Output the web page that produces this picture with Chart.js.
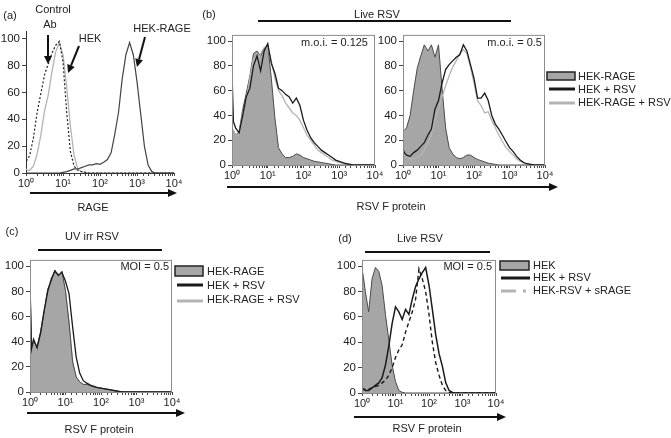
<!DOCTYPE html>
<html>
<head>
<meta charset="utf-8">
<script src="https://cdn.jsdelivr.net/npm/chart.js@4"></script>
<style>
  body { margin: 0; background: #fff; }
  #fig { position: relative; width: 671px; height: 438px; overflow: hidden; background: #fff; }
  #fig canvas { position: absolute; }
  #deco { position: absolute; left: 0; top: 0; font-family: "Liberation Sans", Arial, sans-serif; font-size: 11px; fill: #222; }
</style>
</head>
<body>
<div id="fig"></div>
<script>
// log10 of fluorescence channel, shared by every histogram
const logGrid = [0, 0.04,
  0.1, 0.2, 0.3, 0.4, 0.5, 0.6, 0.7, 0.8, 0.9, 1.0,
  1.1, 1.2, 1.3, 1.4, 1.5, 1.6, 1.7, 1.8, 1.9, 2.0,
  2.1, 2.2, 2.3, 2.4, 2.5, 2.6, 2.7, 2.8, 2.9, 3.0,
  3.1, 3.2, 3.3, 3.4, 3.5, 3.6, 3.7, 3.8, 3.9, 4.0];

const tickLabels = ['10⁰', '10¹', '10²', '10³', '10⁴'];
const yTicks = [0, 20, 40, 60, 80, 100];

// (a) RAGE
const aControl = [9, 10,
  13, 26, 45, 59, 73, 81, 89, 95, 98, 83,
  45, 16, 5, 2, 1, 0.5, 0, 0, 0, 0,
  0, 0, 0, 0, 0, 0, 0, 0, 0, 0,
  0, 0, 0, 0, 0, 0, 0, 0, 0, 0];
const aHek = [3, 2,
  2, 5, 14, 28, 46, 58, 75, 90, 97, 88,
  64, 35, 13, 3, 1, 0.5, 0, 0, 0, 0,
  0, 0, 0, 0, 0, 0, 0, 0, 0, 0,
  0, 0, 0, 0, 0, 0, 0, 0, 0, 0];
const aRage = [0, 0,
  0, 0, 0, 0, 0, 0, 0, 0, 0, 0.5,
  1, 2, 3, 3, 4, 5, 6, 6, 7, 6.5,
  8, 10, 15, 29, 45, 70, 88, 97, 88, 68,
  44, 20, 6, 1, 0, 0, 0, 0, 0, 0];

// (b) live RSV, m.o.i. = 0.125
const blFill = [27, 28,
  24, 27, 45, 58, 72, 90, 92, 88, 94, 97,
  70, 38, 14, 9, 6, 6, 7, 9, 8, 6,
  5, 4, 3, 2.5, 2, 1.5, 1, 0.5, 0, 0,
  0, 0, 0, 0, 0, 0, 0, 0, 0, 0];
const blHek = [75, 35,
  30, 26, 40, 55, 62, 80, 88, 76, 92, 98,
  82, 74, 62, 60, 57, 55, 50, 54, 48, 36,
  28, 22, 18, 15, 12, 10, 8, 6, 4, 3,
  2, 1, 0.5, 0, 0, 0, 0, 0, 0, 0];
const blRage = [30, 28,
  24, 25, 42, 52, 70, 86, 82, 90, 95, 95,
  84, 70, 60, 56, 50, 46, 42, 40, 36, 30,
  24, 20, 16, 12, 10, 8, 6, 4, 3, 2,
  1.5, 1, 0.5, 0, 0, 0, 0, 0, 0, 0];

// (b) live RSV, m.o.i. = 0.5
const brFill = [27, 28,
  30, 40, 60, 78, 88, 97, 92, 97, 87, 97,
  62, 30, 14, 9, 6, 5, 6, 8, 8, 6,
  4.5, 3.5, 2.5, 1.5, 1, 0.5, 0, 0, 0, 0,
  0, 0, 0, 0, 0, 0, 0, 0, 0, 0];
const brHek = [13, 10,
  8, 7, 10, 12, 15, 18, 24, 29, 45, 52,
  66, 77, 81, 84, 87, 89, 97, 92, 81, 70,
  54, 54, 58, 52, 40, 33, 29, 24, 19, 14,
  11, 7, 4, 2, 1, 0.5, 0, 0, 0, 0];
const brRage = [10, 8,
  6, 5, 5, 6, 8, 12, 18, 24, 38, 45,
  55, 64, 72, 79, 84, 90, 93, 90, 79, 66,
  52, 48, 42, 43, 36, 30, 24, 19, 14, 11,
  8, 5, 3, 1.5, 0.5, 0, 0, 0, 0, 0];

// (c) UV irradiated RSV
const cFill = [88, 36,
  40, 36, 48, 64, 82, 88, 97, 92, 96, 80,
  55, 24, 12, 8, 6, 6, 5, 4, 3.5, 3,
  2.5, 2, 1.5, 1, 0.5, 0, 0, 0, 0, 0,
  0, 0, 0, 0, 0, 0, 0, 0, 0, 0];
const cHek = [88, 34,
  42, 35, 47, 65, 80, 90, 96, 93, 95, 88,
  78, 52, 28, 15, 9, 7, 5.5, 4.5, 3.5, 3,
  2.5, 2, 1.5, 1, 0.5, 0, 0, 0, 0, 0,
  0, 0, 0, 0, 0, 0, 0, 0, 0, 0];
const cRage = [86, 35,
  40, 36, 48, 63, 81, 88, 96, 92, 95, 80,
  55, 24, 12, 8, 6, 6, 5, 4, 3.5, 3,
  2.5, 2, 1.5, 1, 0.5, 0, 0, 0, 0, 0,
  0, 0, 0, 0, 0, 0, 0, 0, 0, 0];

// (d) live RSV +/- soluble RAGE
const dFill = [98, 92,
  80, 64, 90, 99, 96, 85, 62, 42, 22, 9,
  2, 0.5, 0, 0, 0, 0, 0, 0, 0, 0,
  0, 0, 0, 0, 0, 0, 0, 0, 0, 0,
  0, 0, 0, 0, 0, 0, 0, 0, 0, 0];
const dHek = [3, 3,
  2, 2, 4, 6, 8, 12, 22, 37, 55, 68,
  64, 58, 66, 62, 74, 84, 90, 95, 99, 85,
  66, 46, 31, 21, 8, 2, 0.5, 0, 0, 0,
  0, 0, 0, 0, 0, 0, 0, 0, 0, 0];
const dSrage = [4, 3,
  3, 3, 4, 5, 6, 8, 10, 14, 20, 28,
  34, 38, 48, 56, 64, 74, 98, 90, 80, 62,
  40, 24, 14, 6, 2, 0.5, 0, 0, 0, 0,
  0, 0, 0, 0, 0, 0, 0, 0, 0, 0];

const FONT = { family: '"Liberation Sans", Arial, sans-serif', size: 11 };
const YFONT = { family: '"Liberation Sans", Arial, sans-serif', size: 11.5 };
const DARK = '#1a1a1a', LIGHT = '#b4b4b4', FILL = '#a6a6a6';
const AXW = 30, AXH = 20, PADT = 6, PADR = 12;

const pts = arr => arr.map((v, i) => ({ x: Math.pow(10, logGrid[i]), y: v }));

function fillSet(arr) {
  return { data: pts(arr), fill: 'origin', backgroundColor: FILL, borderColor: '#4a4a4a', borderWidth: 1, order: 3 };
}
function lineSet(arr, color, width, order, dash) {
  return { data: pts(arr), fill: false, borderColor: color, borderWidth: width, borderDash: dash || [], order: order };
}

const framePlugin = {
  id: 'frame',
  afterDatasetsDraw(chart, args, opts) {
    if (!opts.on) return;
    const a = chart.chartArea, ctx = chart.ctx;
    ctx.save();
    ctx.strokeStyle = '#8c8c8c';
    ctx.lineWidth = 1;
    ctx.strokeRect(a.left + 0.5, a.top + 0.5, a.right - a.left - 1, a.bottom - a.top);
    ctx.restore();
  }
};

function panel(box, datasets, framed) {
  const cv = document.createElement('canvas');
  const w = box.r - box.l + AXW + PADR, h = box.b - box.t + PADT + AXH;
  cv.width = w; cv.height = h;
  cv.style.left = (box.l - AXW) + 'px';
  cv.style.top = (box.t - PADT) + 'px';
  cv.style.width = w + 'px'; cv.style.height = h + 'px';
  document.getElementById('fig').appendChild(cv);

  new Chart(cv, {
    type: 'line',
    data: { datasets: datasets },
    options: {
      responsive: false,
      animation: false,
      elements: { point: { radius: 0 }, line: { tension: 0 } },
      layout: { padding: { top: PADT, right: PADR, left: 0, bottom: 0 } },
      plugins: { legend: { display: false }, tooltip: { enabled: false }, frame: { on: framed } },
      scales: {
        x: {
          type: 'logarithmic', min: 1, max: 10000,
          afterFit: s => { s.height = AXH; },
          border: { display: !framed, color: '#333', width: 1 },
          grid: { drawOnChartArea: false, drawTicks: true, tickLength: 3, color: '#444' },
          ticks: {
            autoSkip: false, maxRotation: 0, padding: 1, color: '#222', font: FONT,
            callback: v => {
              const e = Math.round(Math.log10(v));
              return Math.abs(v - Math.pow(10, e)) < 1e-6 ? tickLabels[e] : '';
            }
          }
        },
        y: {
          min: 0, max: 105,
          afterFit: s => { s.width = AXW; },
          afterBuildTicks: s => { s.ticks = yTicks.map(v => ({ value: v })); },
          border: { display: !framed, color: '#333', width: 1 },
          grid: { drawOnChartArea: false, drawTicks: true, tickLength: 4, color: '#444' },
          ticks: { padding: 2, color: '#222', font: YFONT }
        }
      }
    },
    plugins: [framePlugin]
  });
}

// (a)
panel({ l: 26, r: 174, t: 29, b: 173 }, [
  lineSet(aHek, LIGHT, 1.3, 3),
  lineSet(aControl, '#222', 1.2, 2, [2, 2]),
  lineSet(aRage, '#444', 1.2, 1)
], false);

// (b) left and right
panel({ l: 232, r: 375, t: 32, b: 165 }, [
  fillSet(blFill), lineSet(blRage, LIGHT, 1.3, 2), lineSet(blHek, DARK, 1.3, 1)
], true);
panel({ l: 403, r: 545, t: 32, b: 165 }, [
  fillSet(brFill), lineSet(brRage, LIGHT, 1.3, 2), lineSet(brHek, DARK, 1.3, 1)
], true);

// (c) light curve sits under the fill
const cSets = [fillSet(cFill), lineSet(cRage, LIGHT, 1.3, 4), lineSet(cHek, DARK, 1.3, 1)];
panel({ l: 30, r: 172, t: 257, b: 392 }, cSets, true);

// (d)
panel({ l: 362, r: 496, t: 257, b: 393 }, [
  fillSet(dFill), lineSet(dSrage, DARK, 1.4, 2, [4, 3]), lineSet(dHek, DARK, 1.5, 1)
], true);

// ---- annotations (text, bars, arrows, legends) ----
const NS = 'http://www.w3.org/2000/svg';
const svg = document.createElementNS(NS, 'svg');
svg.setAttribute('id', 'deco');
svg.setAttribute('width', 671);
svg.setAttribute('height', 438);
document.getElementById('fig').appendChild(svg);

function el(tag, attrs, text) {
  const e = document.createElementNS(NS, tag);
  for (const k in attrs) e.setAttribute(k, attrs[k]);
  if (text) e.textContent = text;
  svg.appendChild(e);
  return e;
}
function label(x, y, s, anchor) {
  el('text', { x: x, y: y, 'text-anchor': anchor || 'middle', 'dominant-baseline': 'central' }, s);
}
function bar(x1, x2, y) {
  el('line', { x1: x1, y1: y, x2: x2, y2: y, stroke: '#111', 'stroke-width': 2 });
}
function arrow(x1, y1, x2, y2, len, half) {
  const ang = Math.atan2(y2 - y1, x2 - x1), c = Math.cos(ang), s = Math.sin(ang);
  const bx = x2 - c * len, by = y2 - s * len;
  el('line', { x1: x1, y1: y1, x2: bx, y2: by, stroke: '#111', 'stroke-width': 2 });
  el('polygon', { points: `${x2},${y2} ${bx - s * half},${by + c * half} ${bx + s * half},${by - c * half}`, fill: '#111' });
}
function legendBox(x, y, w, h) {
  el('rect', { x: x, y: y, width: w, height: h, fill: FILL, stroke: '#222', 'stroke-width': 1.5 });
}
function legendLine(x1, x2, y, color, dash) {
  const a = { x1: x1, y1: y, x2: x2, y2: y, stroke: color, 'stroke-width': 3 };
  if (dash) a['stroke-dasharray'] = dash;
  el('line', a);
}

// (a)
label(10, 15, '(a)');
label(53, 9, 'Control');
label(50, 24, 'Ab');
label(90, 38, 'HEK');
label(162, 28, 'HEK-RAGE');
arrow(48, 35, 48, 64, 8, 4);
arrow(79, 46, 68, 73, 8, 4);
arrow(145, 37, 137, 67, 8, 4);
arrow(30, 193, 177, 193, 9, 4);
label(93, 207, 'RAGE');

// (b)
label(209, 14, '(b)');
label(377, 14, 'Live RSV');
bar(258, 511, 21);
label(368, 42, 'm.o.i. = 0.125', 'end');
label(542, 42, 'm.o.i. = 0.5', 'end');
arrow(227, 187, 558, 187, 9, 4);
label(391, 206, 'RSV F protein');
legendBox(547, 72, 28, 8);
label(578, 76, 'HEK-RAGE', 'start');
legendLine(549, 575, 89, DARK);
label(578, 89, 'HEK + RSV', 'start');
legendLine(549, 575, 103, LIGHT);
label(578, 102, 'HEK-RAGE + RSV', 'start');

// (c)
label(12, 231, '(c)');
label(92, 236, 'UV irr RSV');
bar(38, 162, 250);
label(169, 266, 'MOI = 0.5', 'end');
arrow(27, 413, 185, 413, 9, 4);
label(99, 429, 'RSV F protein');
legendBox(175, 266, 28, 10);
label(207, 271, 'HEK-RAGE', 'start');
legendLine(177, 203, 285, DARK);
label(207, 285, 'HEK + RSV', 'start');
legendLine(177, 203, 301, LIGHT);
label(207, 299, 'HEK-RAGE + RSV', 'start');

// (d)
label(345, 238, '(d)');
label(420, 238, 'Live RSV');
bar(365, 490, 252);
label(492, 266, 'MOI = 0.5', 'end');
arrow(354, 417, 506, 417, 9, 4);
label(427, 428, 'RSV F protein');
legendBox(500, 261, 29, 9);
label(533, 265, 'HEK', 'start');
legendLine(501, 530, 278, DARK);
label(533, 277, 'HEK + RSV', 'start');
legendLine(501, 530, 291, LIGHT, '15 7 3');
label(533, 290, 'HEK-RSV + sRAGE', 'start');
</script>
</body>
</html>
